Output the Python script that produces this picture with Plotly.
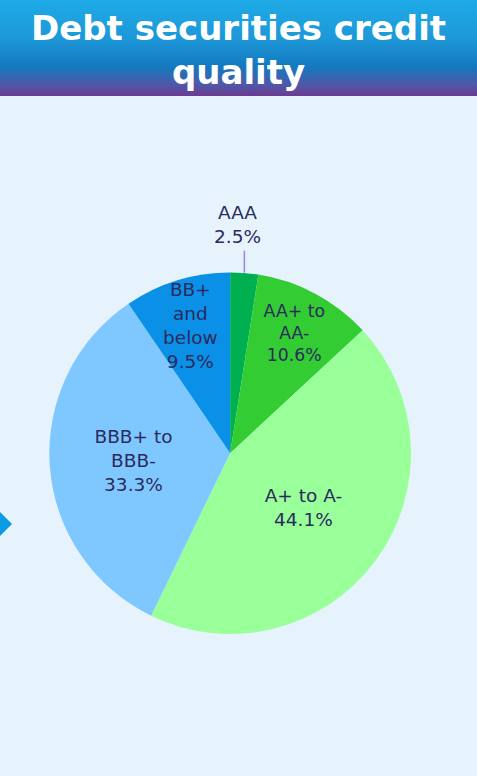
"""Debt securities credit quality - pie with a gradient header band."""

import math

import plotly.graph_objects as go

# Data
RATINGS = ["AAA", "AA+ to<br>AA-", "A+ to A-", "BBB+ to<br>BBB-", "BB+<br>and<br>below"]
SHARES = [2.5, 10.6, 44.1, 33.3, 9.5]
COLOURS = ["#00b050", "#33cc33", "#99ff99", "#7fc8ff", "#0a90e6"]

TITLE = "Debt securities credit<br>quality"

# Palette
INK = "#2b2b5e"
BG = "#e6f3fd"
LEADER = "#9b84e0"
FONT = "DejaVu Sans"
LABEL_SIZE = 18.5

W, H = 477, 776
HEADER_PX = 96
PIE_X = (0.103, 0.862)
PIE_Y = (0.183, 0.649)

fig = go.Figure()

# Header band with vertical gradient, drawn on its own hidden axis.
fig.add_trace(
    go.Scatter(
        x=[0, 1, 1, 0, 0],
        y=[0, 0, 1, 1, 0],
        mode="lines",
        line=dict(width=0),
        fill="toself",
        fillgradient=dict(
            type="vertical",
            start=0,
            stop=1,
            colorscale=[
                [0.0, "#6c3a90"],
                [0.12, "#4f58a8"],
                [0.30, "#1478be"],
                [0.60, "#1d98d8"],
                [1.0, "#1eaae6"],
            ],
        ),
        hoverinfo="skip",
        showlegend=False,
    )
)

# Slices whose labels plotly would shrink get drawn as annotations instead.
positions = ["none", "inside", "inside", "inside", "none"]

fig.add_trace(
    go.Pie(
        labels=RATINGS,
        values=SHARES,
        sort=False,
        direction="clockwise",
        rotation=0,
        marker=dict(colors=COLOURS, line=dict(width=0)),
        texttemplate="%{label}<br>%{value:.1f}%",
        textposition=positions,
        insidetextorientation="horizontal",
        textfont=dict(family=FONT, size=LABEL_SIZE, color=INK),
        domain=dict(x=list(PIE_X), y=list(PIE_Y)),
        showlegend=False,
        hoverinfo="label+percent",
    )
)

total = sum(SHARES)
cx = (PIE_X[0] + PIE_X[1]) / 2
cy = (PIE_Y[0] + PIE_Y[1]) / 2
radius_px = (PIE_X[1] - PIE_X[0]) * W / 2


def slice_point(i, frac):
    """Paper coords of the point at frac*R along slice i's mid-angle."""
    start = sum(SHARES[:i])
    ang = 2 * math.pi * (start + SHARES[i] / 2) / total
    r = radius_px * frac
    return cx + r * math.sin(ang) / W, cy + r * math.cos(ang) / H


# AAA label sits outside the pie with a short vertical leader from the rim.
ex, ey = slice_point(0, 1.0)
fig.add_shape(
    type="line",
    xref="paper",
    yref="paper",
    x0=ex,
    x1=ex,
    y0=ey,
    y1=ey + 22 / H,
    line=dict(color=LEADER, width=1.5),
)
fig.add_annotation(
    x=ex - 7 / W,
    y=ey + 24 / H,
    xref="paper",
    yref="paper",
    yanchor="bottom",
    text=f"{RATINGS[0]}<br>{SHARES[0]:.1f}%",
    showarrow=False,
    font=dict(family=FONT, size=LABEL_SIZE, color=INK),
)

# BB+ label at full size, overflowing the thin slice like the original.
bx, by = slice_point(4, 0.74)
fig.add_annotation(
    x=bx,
    y=by,
    xref="paper",
    yref="paper",
    text=f"{RATINGS[4]}<br>{SHARES[4]:.1f}%",
    showarrow=False,
    font=dict(family=FONT, size=LABEL_SIZE, color=INK),
)

fig.add_annotation(
    x=0.5,
    y=1 - 50 / H,
    xref="paper",
    yref="paper",
    text=f"<b>{TITLE}</b>",
    showarrow=False,
    font=dict(family=FONT, size=34, color="white"),
    yanchor="middle",
)

# Small blue marker peeking in from the left edge.
fig.add_shape(
    type="path",
    xref="paper",
    yref="paper",
    path=(
        f"M {-16 / W} {1 - 524 / H} L {-2 / W} {1 - 510 / H} "
        f"L {12 / W} {1 - 524 / H} L {-2 / W} {1 - 538 / H} Z"
    ),
    fillcolor="#0a9be3",
    line=dict(width=0),
)

fig.update_layout(
    width=W,
    height=H,
    margin=dict(l=0, r=0, t=0, b=0),
    paper_bgcolor=BG,
    plot_bgcolor="rgba(0,0,0,0)",
    font=dict(family=FONT, color=INK),
    xaxis=dict(domain=[0, 1], range=[0, 1], visible=False, fixedrange=True),
    yaxis=dict(domain=[1 - HEADER_PX / H, 1], range=[0, 1], visible=False, fixedrange=True),
)

# Drop the default body margin so the figure fills the window edge to edge.
fig.write_html(
    "out.html",
    config={"displayModeBar": False},
    post_script="document.body.style.margin='0';",
)
